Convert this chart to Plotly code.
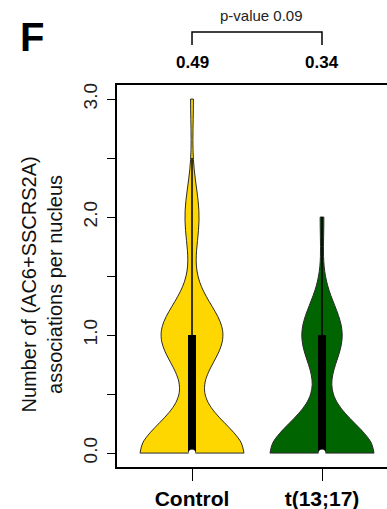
import numpy as np
import plotly.graph_objects as go

# ---- data ----
categories = ["Control", "t(13;17)"]
levels = [0, 1, 2, 3]                 # associations per nucleus
control_counts = [74, 44, 10, 2]      # nuclei with 0,1,2,3 associations
t1317_counts = [85, 33, 3, 0]
mean_labels = ["0.49", "0.34"]
p_label = "p-value 0.09"
fill_colors = ["#FFD700", "#006400"]
y_tickvals = [0, 0.5, 1, 1.5, 2, 2.5, 3]
y_ticktext = ["0.0", "", "1.0", "", "2.0", "", "3.0"]

FONT = "Liberation Sans, Arial, sans-serif"

groups = [np.repeat(levels, control_counts), np.repeat(levels, t1317_counts)]

fig = go.Figure()

for cat, vals, col in zip(categories, groups, fill_colors):
    fig.add_trace(go.Violin(
        x=[cat] * len(vals), y=vals, name=cat,
        fillcolor=col, line=dict(color="#2a2a2a", width=1),
        bandwidth=0.26, spanmode="hard", scalemode="width", width=0.8,
        points=False, box_visible=False, meanline_visible=False,
        opacity=1, showlegend=False, hoverinfo="skip",
    ))

for cat, vals in zip(categories, groups):
    q1, med, q3 = np.percentile(vals, [25, 50, 75])
    upper = min(q3 + 1.5 * (q3 - q1), vals.max())
    # whisker
    fig.add_trace(go.Scatter(x=[cat, cat], y=[q3, upper], mode="lines",
                             line=dict(color="black", width=1.5),
                             showlegend=False, hoverinfo="skip"))
    # box
    fig.add_trace(go.Scatter(x=[cat, cat], y=[q1, q3], mode="lines",
                             line=dict(color="black", width=8),
                             showlegend=False, hoverinfo="skip"))
    # median
    fig.add_trace(go.Scatter(x=[cat], y=[med], mode="markers",
                             marker=dict(color="white", size=7, line=dict(width=0)),
                             showlegend=False, hoverinfo="skip"))

# mean labels above each group
for cat, lab in zip(categories, mean_labels):
    fig.add_annotation(x=cat, xref="x", y=1.06, yref="paper", text=f"<b>{lab}</b>",
                       showarrow=False, font=dict(family=FONT, size=17, color="black"),
                       xanchor="center", yanchor="middle")

# significance bracket
fig.add_shape(type="path", xref="x", yref="paper",
              path="M 0,1.105 L 0,1.139 L 1,1.139 L 1,1.105",
              line=dict(color="black", width=1.5))
fig.add_annotation(x=0.537, xref="paper", y=1.183, yref="paper", text=p_label,
                   showarrow=False, font=dict(family=FONT, size=15, color="#222"),
                   xanchor="center", yanchor="middle")

# panel letter
fig.add_annotation(x=-0.315, xref="paper", y=1.126, yref="paper", text="<b>F</b>",
                   showarrow=False, font=dict(family=FONT, size=40, color="black"),
                   xanchor="center", yanchor="middle")

# y axis title
fig.add_annotation(x=-0.276, xref="paper", y=0.479, yref="paper",
                   text="Number of (AC6+SSCRS2A)<br>associations per nucleus",
                   textangle=-90, showarrow=False,
                   font=dict(family=FONT, size=20, color="#111"),
                   xanchor="center", yanchor="middle")

fig.update_layout(
    width=387, height=509,
    margin=dict(l=117, r=0, t=85, b=42),
    paper_bgcolor="white", plot_bgcolor="white",
    violinmode="overlay",
    font=dict(family=FONT, color="black"),
    xaxis=dict(type="category", categoryorder="array", categoryarray=categories,
               range=[-0.577, 1.5], showline=True, mirror=True, linecolor="black",
               linewidth=1.5, ticks="outside", ticklen=12, tickwidth=1.2,
               tickcolor="black", showgrid=False, zeroline=False,
               tickfont=dict(family=FONT, size=21, color="black"),
               tickprefix="<b>", ticksuffix="</b>"),
    yaxis=dict(range=[-0.118, 3.119], showline=True, mirror=False, linecolor="black",
               linewidth=1.5, ticks="outside", ticklen=8, tickwidth=1.2,
               tickcolor="black", showgrid=False, zeroline=False,
               tickvals=y_tickvals, ticktext=y_ticktext, tickangle=-90,
               ticklabelstandoff=3,
               tickfont=dict(family=FONT, size=19, color="#222")),
)

fig.write_html("out.html",
               config={"displayModeBar": False},
               post_script="document.body.style.margin='0px';"
                           "document.body.style.overflow='hidden';")
